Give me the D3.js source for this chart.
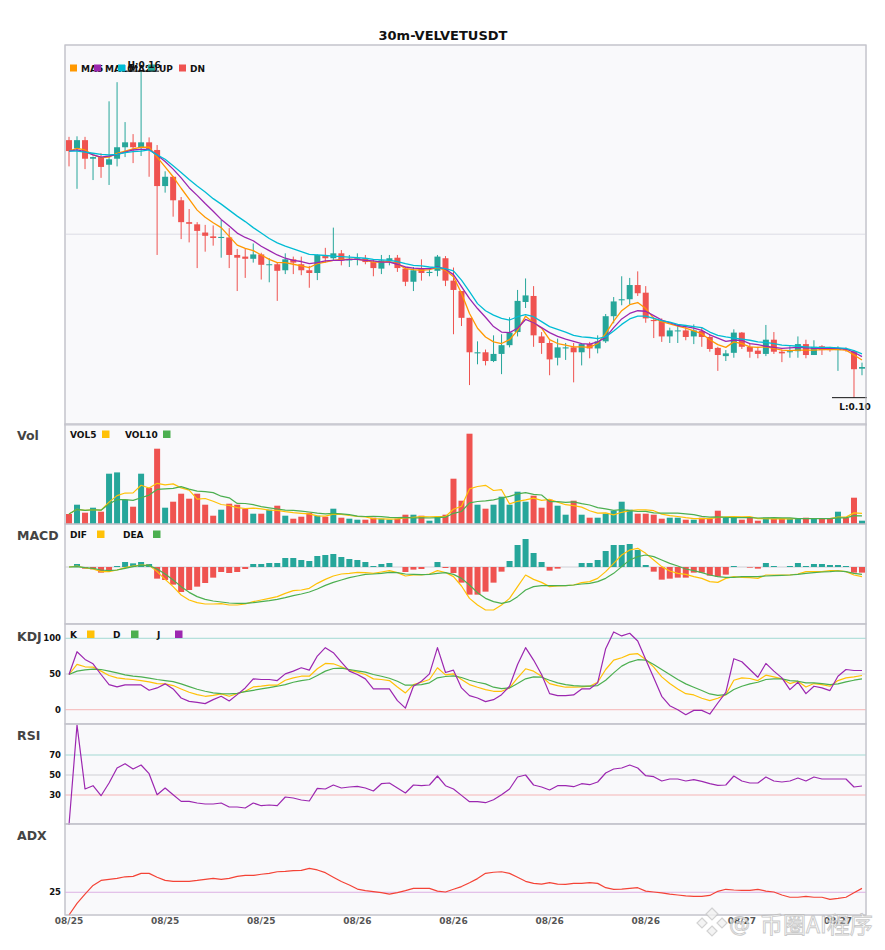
<!DOCTYPE html>
<html><head><meta charset="utf-8">
<script src="https://cdn.jsdelivr.net/npm/d3@7"></script>
<style>body{margin:0;background:#fff;} svg{display:block;font-family:"DejaVu Sans",sans-serif;}</style>
</head><body><svg id="c" width="885" height="950"></svg>
<script>
const title = "30m-VELVETUSDT";
const open = [.1472,.1457,.1472,.1438,.1441,.1427,.1438,.1459,.1468,.1459,
 .1468,.1454,.1388,.1405,.1362,.1322,.1318,.1303,.1296,.1293,
 .1294,.1262,.1259,.1255,.1263,.1244,.1245,.1234,.1254,.1245,
 .1234,.1229,.1260,.1256,.1265,.1252,.1254,.1256,.1249,.1237,
 .1252,.1257,.1237,.1213,.1237,.1229,.1233,.1256,.1215,.1196,
 .1147,.1082,.1084,.1068,.1081,.1097,.1121,.1176,.1187,.1113,
 .1101,.1074,.1091,.1093,.1084,.1099,.1091,.1104,.1150,.1179,
 .1181,.1207,.1193,.1143,.1141,.1113,.1123,.1124,.1113,.1123,
 .1112,.1092,.1077,.1083,.1120,.1094,.1087,.1081,.1107,.1085,
 .1084,.1086,.1099,.1079,.1095,.1090,.1088,.1090,.1086,.1054];
const high = [.1478,.1479,.1478,.1442,.1448,.1543,.1578,.1505,.1483,.1600,
 .1477,.1463,.1415,.1406,.1368,.1346,.1322,.1317,.1316,.1326,
 .1311,.1273,.1274,.1283,.1266,.1256,.1249,.1265,.1259,.1259,
 .1242,.1263,.1275,.1312,.1271,.1262,.1265,.1262,.1254,.1262,
 .1262,.1262,.1240,.1240,.1254,.1237,.1262,.1260,.1239,.1196,
 .1147,.1104,.1089,.1115,.1117,.1148,.1198,.1219,.1205,.1121,
 .1106,.1109,.1101,.1101,.1101,.1103,.1115,.1154,.1185,.1223,
 .1220,.1232,.1205,.1149,.1146,.1129,.1132,.1134,.1135,.1129,
 .1117,.1094,.1088,.1126,.1121,.1101,.1094,.1134,.1121,.1089,
 .1095,.1113,.1107,.1106,.1097,.1094,.1095,.1093,.1088,.1065];
const low = [.1424,.1383,.1419,.1399,.1403,.1390,.1424,.1441,.1430,.1443,
 .1405,.1262,.1376,.1332,.1291,.1285,.1238,.1268,.1279,.1257,
 .1238,.1196,.1220,.1248,.1217,.1212,.1178,.1227,.1227,.1225,
 .1202,.1216,.1248,.1252,.1243,.1240,.1243,.1245,.1223,.1227,
 .1243,.1231,.1205,.1196,.1215,.1223,.1223,.1205,.1117,.1132,
 .1024,.1062,.1060,.1066,.1044,.1093,.1113,.1165,.1094,.1081,
 .1042,.1060,.1070,.1029,.1060,.1073,.1082,.1101,.1137,.1170,
 .1172,.1187,.1138,.1110,.1103,.1101,.1101,.1106,.1099,.1094,
 .1085,.1050,.1068,.1074,.1090,.1074,.1073,.1077,.1081,.1066,
 .1074,.1074,.1073,.1079,.1079,.1085,.1050,.1085,.1001,.1042];
const close = [.1452,.1472,.1438,.1441,.1423,.1437,.1459,.1468,.1459,.1468,
 .1454,.1388,.1405,.1362,.1322,.1319,.1306,.1297,.1293,.1295,
 .1262,.1257,.1255,.1263,.1244,.1245,.1233,.1254,.1248,.1234,
 .1229,.1262,.1256,.1265,.1252,.1255,.1256,.1249,.1238,.1252,
 .1256,.1238,.1213,.1234,.1229,.1231,.1259,.1215,.1198,.1147,
 .1084,.1084,.1068,.1081,.1097,.1120,.1178,.1188,.1115,.1101,
 .1071,.1093,.1093,.1084,.1099,.1091,.1104,.1150,.1177,.1181,
 .1207,.1192,.1146,.1141,.1113,.1124,.1124,.1112,.1124,.1112,
 .1090,.1079,.1082,.1120,.1094,.1085,.1081,.1107,.1085,.1082,
 .1086,.1099,.1079,.1094,.1088,.1088,.1090,.1088,.1053,.1057];
// volume (thousands)
const volume = [100,193,113,163,123,503,516,243,173,503,
 363,753,163,223,303,253,303,193,83,143,
 203,193,153,103,103,143,183,83,53,73,
 113,83,73,153,63,53,43,43,63,53,
 43,53,93,93,83,33,73,93,453,233,
 903,193,153,193,273,193,323,223,283,163,
 243,183,93,233,93,63,63,103,133,223,
 143,103,103,93,53,63,63,43,43,63,
 53,133,63,63,43,63,33,63,53,53,
 53,53,63,53,53,53,123,63,263,33];
const ma5 = [.1452,.1457,.1454,.1445,.1440,.1441,.1448,.1452,.1456,.1459,
 .1459,.1441,.1423,.1405,.1384,.1364,.1344,.1331,.1321,.1312,
 .1296,.1280,.1274,.1270,.1262,.1254,.1248,.1248,.1245,.1242,
 .1239,.1246,.1249,.1252,.1254,.1254,.1254,.1252,.1249,.1249,
 .1250,.1246,.1237,.1235,.1234,.1235,.1239,.1234,.1222,.1192,
 .1155,.1128,.1112,.1103,.1100,.1107,.1124,.1150,.1138,.1128,
 .1107,.1100,.1097,.1094,.1094,.1093,.1100,.1118,.1141,.1160,
 .1171,.1175,.1164,.1146,.1140,.1136,.1132,.1128,.1123,.1118,
 .1107,.1098,.1093,.1103,.1100,.1094,.1093,.1094,.1091,.1088,
 .1087,.1088,.1088,.1088,.1089,.1089,.1089,.1088,.1079,.1070];
const ma10 = [.1452,.1454,.1451,.1445,.1441,.1443,.1446,.1450,.1454,.1455,
 .1455,.1445,.1433,.1419,.1403,.1385,.1371,.1356,.1342,.1327,
 .1315,.1302,.1294,.1288,.1278,.1270,.1262,.1256,.1252,.1250,
 .1246,.1248,.1251,.1252,.1252,.1254,.1254,.1252,.1251,.1249,
 .1249,.1245,.1240,.1238,.1237,.1237,.1240,.1236,.1226,.1204,
 .1182,.1164,.1148,.1131,.1121,.1120,.1128,.1144,.1138,.1129,
 .1120,.1113,.1108,.1104,.1100,.1099,.1103,.1111,.1129,.1145,
 .1155,.1160,.1159,.1151,.1143,.1138,.1133,.1131,.1128,.1124,
 .1116,.1110,.1104,.1106,.1106,.1100,.1098,.1095,.1093,.1091,
 .1092,.1093,.1092,.1091,.1091,.1091,.1091,.1090,.1084,.1076];
const ma20 = [.1452,.1452,.1450,.1448,.1446,.1445,.1446,.1449,.1451,.1452,
 .1454,.1445,.1437,.1425,.1413,.1400,.1388,.1377,.1365,.1355,
 .1344,.1333,.1323,.1312,.1302,.1292,.1284,.1278,.1273,.1268,
 .1263,.1262,.1261,.1260,.1259,.1258,.1257,.1256,.1254,.1253,
 .1252,.1250,.1246,.1243,.1242,.1240,.1239,.1237,.1233,.1216,
 .1195,.1173,.1160,.1152,.1146,.1143,.1149,.1153,.1149,.1140,
 .1131,.1126,.1121,.1115,.1112,.1111,.1109,.1112,.1123,.1135,
 .1145,.1150,.1150,.1146,.1142,.1139,.1135,.1133,.1131,.1129,
 .1121,.1115,.1112,.1110,.1108,.1106,.1103,.1102,.1100,.1097,
 .1096,.1095,.1094,.1093,.1093,.1093,.1092,.1091,.1087,.1081];
// MACD values in units of 1e-4
const dif = [0,0.2,-0.2,-0.4,-0.93,-0.93,-0.6,-0.13,0.2,0.4,
 0.33,-0.93,-2.47,-3.93,-5.6,-6.6,-7.13,-7.4,-7.4,-7.33,
 -7.6,-7.6,-7.4,-6.93,-6.6,-6.27,-5.93,-5.27,-4.73,-4.6,
 -4.27,-3.27,-2.47,-1.8,-1.4,-1.27,-1.07,-1.13,-1.27,-1.0,
 -0.73,-1.13,-1.8,-1.6,-1.6,-1.4,-0.73,-1.1,-1.93,-3.8,
 -6.27,-7.6,-8.6,-8.6,-7.6,-6.27,-3.93,-1.6,-2.47,-3.07,
 -3.93,-3.8,-3.73,-3.6,-3.13,-2.93,-2.27,-0.93,0.73,2.4,
 3.4,3.73,2.73,1.4,0.07,-0.8,-1.27,-1.47,-1.93,-2.27,
 -2.93,-3.07,-2.27,-1.93,-2.07,-2.13,-2.27,-1.6,-1.6,-1.6,
 -1.6,-1.4,-0.93,-0.93,-0.93,-0.73,-0.73,-0.93,-1.6,-1.93];
const dea = [0,0.07,-0.13,-0.27,-0.6,-0.73,-0.6,-0.27,0.07,0.33,
 0.27,-0.4,-1.4,-2.6,-3.93,-5.07,-5.93,-6.47,-6.8,-7.0,
 -7.2,-7.27,-7.27,-7.13,-6.93,-6.73,-6.47,-6.13,-5.73,-5.4,
 -5.0,-4.4,-3.67,-3.07,-2.6,-2.13,-1.8,-1.47,-1.4,-1.27,
 -1.07,-1.13,-1.4,-1.47,-1.53,-1.47,-1.27,-1.13,-1.47,-2.27,
 -3.6,-5.13,-6.27,-6.93,-7.27,-6.93,-5.93,-4.6,-3.93,-3.73,
 -3.73,-3.73,-3.73,-3.6,-3.4,-3.27,-2.93,-2.27,-1.27,0.07,
 1.4,2.07,2.4,2.07,1.4,0.73,0.2,-0.4,-0.73,-1.13,
 -1.6,-1.93,-2.07,-2.07,-1.93,-1.93,-1.93,-1.8,-1.73,-1.67,
 -1.6,-1.47,-1.27,-1.13,-1.0,-0.93,-0.8,-0.93,-1.27,-1.47];
const macdHist = [0,0.6,-0.33,-0.47,-1.13,-0.67,0.2,1.0,0.73,1.0,
 0.6,-2.33,-2.6,-3.53,-5.0,-4.6,-3.93,-3.2,-2.13,-1.0,
 -1.2,-1.0,-0.4,0.6,0.6,0.8,0.8,1.8,1.8,1.4,
 1.2,2.2,2.4,2.6,2.0,1.6,1.4,1.0,0.2,0.6,
 0.8,0,-1.0,-0.53,-0.4,0,1.0,-0.2,-1.2,-3.13,
 -5.53,-5.53,-4.93,-3.13,-0.93,1.2,4.4,5.6,2.8,1.0,
 -0.73,-0.33,0,0,0.8,0.8,1.4,3.2,4.4,4.4,
 4.6,3.4,0.4,-0.93,-2.53,-2.33,-2.13,-2.13,-1.13,-1.13,
 -1.73,-1.93,-1.53,0.2,0,-0.13,-0.33,0.8,0.2,0,
 0.2,0.8,0.2,0.6,0.6,0.4,0.4,0.2,-1.13,-1.13];
const kVals = [49.3,63.4,60.1,59.6,54.0,47.9,44.6,43.2,42.3,40.8,
 39.0,36.6,36.2,33.8,29.1,24.4,21.1,18.8,20.2,22.1,
 18.8,22.5,25.8,31.9,32.9,34.3,34.3,41.3,44.6,46.9,
 46.9,57.3,64.8,64.3,60.1,55.4,52.6,49.3,43.2,42.3,
 40.8,31.9,23.5,35.2,38.5,42.3,58.7,48.8,50.2,42.3,
 35.2,31.5,28.2,25.8,25.8,30.5,44.6,57.3,54.0,46.9,
 36.6,33.8,31.5,31.5,31.9,32.9,38.5,56.3,69.5,72.8,
 77.5,78.4,70.4,59.6,46.0,36.6,29.1,22.5,20.7,16.0,
 12.7,16.0,21.1,41.3,44.6,43.7,40.8,48.4,46.0,43.2,
 36.6,39.9,31.9,36.6,35.2,32.9,40.8,44.6,46.0,47.9];
const dVals = [49.3,54.0,55.9,56.8,56.3,54.0,51.6,48.8,46.9,46.0,
 44.1,42.3,40.8,39.4,36.2,32.4,28.6,25.8,23.5,22.5,
 22.1,23.0,25.4,27.2,29.1,31.0,32.9,35.2,38.5,40.8,
 42.3,47.9,54.0,57.7,58.2,56.3,54.5,52.6,49.3,46.9,
 44.1,39.9,34.3,34.3,35.2,37.6,44.6,46.5,47.4,45.1,
 41.3,38.5,36.2,31.5,29.6,30.5,36.6,43.2,46.0,45.5,
 41.3,37.6,35.2,33.8,32.9,32.9,33.8,41.3,51.6,61.0,
 66.7,70.0,69.5,63.4,56.3,49.3,42.3,36.2,31.5,26.8,
 22.1,20.2,21.1,28.2,32.9,36.2,38.5,42.3,43.2,43.2,
 40.8,39.9,37.6,37.6,36.6,35.2,36.2,39.0,41.3,43.2];
const jVals = [49.3,81.2,70.4,64.3,49.3,35.2,31.9,34.7,34.7,34.7,
 27.2,30.5,36.2,29.1,16.4,11.7,10.3,8.5,14.1,18.8,
 12.2,21.1,30.5,43.2,42.3,42.3,40.8,50.2,54.0,58.7,
 55.4,75.1,86.9,79.8,66.7,54.0,49.3,43.2,29.1,29.1,
 29.1,12.7,2.3,32.9,39.9,50.2,86.9,52.1,55.4,30.5,
 19.7,16.4,11.3,14.1,21.1,32.9,63.4,86.9,69.5,49.3,
 22.5,19.7,19.7,20.7,29.1,29.1,37.6,85.4,108.9,103.3,
 107.0,96.2,70.4,44.6,18.8,5.6,0,-7.0,-0.9,-0.9,
 -6.1,9.4,24.4,71.4,67.1,56.3,45.5,64.8,54.0,44.6,
 28.2,38.5,22.5,32.9,30.5,26.8,46.9,56.3,54.9,54.9];
const rsi = [0,100,36,39.3,29.3,42,57,61.3,56,60,
 51.3,30.3,37,30.3,23.6,23.6,22,21,21,22,
 18,18,17,22,19.3,20,19.3,28,27,25,
 24,36.6,36,40,37,38,38.6,37,34,41.3,
 42,37,32,40,39.3,40,49,39.3,36,29.6,
 23.3,23.3,22.3,25.3,30.3,36,48,50,40,38,
 35,39.3,39.3,38.3,41.3,40.3,43,52,56,57,
 60,57,49.3,48.3,44,46,46,44,45.3,43.6,
 41.3,39.6,40,49,44,42,42,48,44,43,
 44,47,44,48,46,46,46,46,38,39];
const adx = [15,20.1,24.2,28.0,30.2,30.7,31.1,31.8,32.0,33.3,
 33.3,31.6,30.2,29.8,29.8,29.8,30.2,30.7,31.1,30.7,
 31.1,32.0,32.4,32.4,32.9,33.3,34.0,34.2,34.5,34.6,
 35.5,34.8,33.6,31.6,29.7,28.2,26.4,25.7,25.3,24.8,
 24.2,24.8,25.7,26.7,26.7,26.7,25.5,25.1,26.3,27.5,
 29.2,31.0,33.3,33.8,34.0,33.3,31.6,29.8,28.9,28.6,
 29.2,28.6,28.5,28.9,28.9,29.2,28.9,27.0,26.3,26.4,
 26.7,27.0,25.5,25.1,24.7,24.2,23.8,23.4,23.2,23.2,
 23.6,25.4,26.3,26.0,25.8,25.8,26.3,25.5,25.1,23.8,
 22.8,22.8,23.2,22.8,22.8,21.9,22.3,22.8,24.8,26.7];
const tickIndex = [0,12,24,36,48,60,72,84,96];
const tickLabels = ["08/25","08/25","08/25","08/26","08/26","08/26","08/26","08/27","08/27"];

const UP = "#26a69a", DN = "#ef5350";
const svg = d3.select("#c");
const L = 65, R = 866;
const n = close.length;
const x = d3.scaleBand().domain(d3.range(n)).range([L, R]).padding(0);
const cx = i => x(i) + x.bandwidth() / 2;
const panels = [["price",45,425],["vol",424,524],["macd",524,624],["kdj",624,724],["rsi",724,824],["adx",824,915]];

svg.append("text").attr("x", 443).attr("y", 40).attr("text-anchor", "middle")
  .attr("font-size", 13).attr("font-weight", "bold").attr("fill", "#111").text(title);

panels.forEach(p => {
  svg.append("rect").attr("x", L).attr("y", p[1]).attr("width", R - L).attr("height", p[2] - p[1])
    .attr("fill", "#f9f9fb").attr("stroke", "#c4c4cc").attr("stroke-width", 1);
});

function hline(yv, color) {
  svg.append("line").attr("x1", L).attr("x2", R).attr("y1", yv).attr("y2", yv)
    .attr("stroke", color).attr("stroke-width", 1);
}
function drawLine(data, yScale, color, w) {
  svg.append("path").datum(data).attr("fill", "none").attr("stroke", color)
    .attr("stroke-width", w || 1.2).attr("stroke-linejoin", "round")
    .attr("d", d3.line().x((d, i) => cx(i)).y(d => yScale(d)));
}
const isUp = i => close[i] >= open[i];

// ---------- price ----------
const y = d3.scaleLinear().domain([0.0951, 0.1646]).range([425, 45]);
hline(y(0.13), "#dcdce4");
const cg = svg.append("g");
d3.range(n).forEach(i => {
  const col = isUp(i) ? UP : DN;
  cg.append("line").attr("x1", cx(i)).attr("x2", cx(i)).attr("y1", y(high[i])).attr("y2", y(low[i]))
    .attr("stroke", col).attr("stroke-width", 1);
  const top = y(Math.max(open[i], close[i])), bot = y(Math.min(open[i], close[i]));
  cg.append("rect").attr("x", cx(i) - 3).attr("y", top).attr("width", 6)
    .attr("height", Math.max(1, bot - top)).attr("fill", col);
});
drawLine(ma5, y, "#ff9800", 1.3);
drawLine(ma10, y, "#9c27b0", 1.3);
drawLine(ma20, y, "#00bcd4", 1.3);

// price legend
[["MA5","#ff9800",70],["MA10","#9c27b0",94],["MA20","#00bcd4",118],["UP",UP,148],["DN",DN,179]].forEach(d => {
  svg.append("rect").attr("x", d[2]).attr("y", 64.5).attr("width", 7).attr("height", 7).attr("fill", d[1]);
  svg.append("text").attr("x", d[2] + 11).attr("y", 71.5).attr("font-size", 9).attr("font-weight", "bold")
    .attr("fill", "#111").text(d[0]);
});

// high / low markers
const hi = d3.maxIndex(high), lo = d3.minIndex(low);
const fmt = d3.format(".2f");
svg.append("line").attr("x1", cx(hi) - 15).attr("x2", cx(hi) + 18).attr("y1", y(high[hi]) + 1).attr("y2", y(high[hi]) + 1)
  .attr("stroke", "#111").attr("stroke-width", 1);
svg.append("text").attr("x", cx(hi) + 3).attr("y", y(high[hi]) - 2).attr("text-anchor", "middle")
  .attr("font-size", 9).attr("font-weight", "bold").attr("fill", "#111").text("H:" + fmt(high[hi]));
svg.append("line").attr("x1", cx(lo) - 22).attr("x2", Math.min(R + 1, cx(lo) + 14)).attr("y1", y(low[lo])).attr("y2", y(low[lo]))
  .attr("stroke", "#111").attr("stroke-width", 1);
svg.append("text").attr("x", cx(lo) + 1).attr("y", y(low[lo]) + 12.5).attr("text-anchor", "middle")
  .attr("font-size", 9).attr("font-weight", "bold").attr("fill", "#111").text("L:" + fmt(low[lo]));

// ---------- volume ----------
const yv = d3.scaleLinear().domain([0, 1000]).range([524, 424]);
d3.range(n).forEach(i => {
  svg.append("rect").attr("x", cx(i) - 3).attr("y", yv(volume[i])).attr("width", 6)
    .attr("height", yv(0) - yv(volume[i])).attr("fill", isUp(i) ? UP : DN);
});
const sma = (arr, k) => arr.map((_, i) => d3.mean(arr.slice(Math.max(0, i - k + 1), i + 1)));
drawLine(sma(volume, 5), yv, "#ffc107", 1.2);
drawLine(sma(volume, 10), yv, "#4caf50", 1.2);

// ---------- MACD ----------
const ym = d3.scaleLinear().domain([-11.4, 8.6]).range([624, 524]);
hline(ym(0), "#d0d0d6");
d3.range(n).forEach(i => {
  const v = macdHist[i];
  if (v === 0) return;
  svg.append("rect").attr("x", cx(i) - 3).attr("y", Math.min(ym(v), ym(0))).attr("width", 6)
    .attr("height", Math.abs(ym(v) - ym(0))).attr("fill", v > 0 ? UP : DN);
});
drawLine(dif, ym, "#ffc107", 1.2);
drawLine(dea, ym, "#4caf50", 1.2);

// ---------- KDJ ----------
const yk = d3.scaleLinear().domain([-20, 120]).range([724, 624]);
hline(yk(100), "#a3d9d3"); hline(yk(50), "#cfcfd4"); hline(yk(0), "#f5b5b5");
drawLine(kVals, yk, "#ffc107", 1.2);
drawLine(dVals, yk, "#4caf50", 1.2);
drawLine(jVals, yk, "#9c27b0", 1.2);

// ---------- RSI ----------
const yr = d3.scaleLinear().domain([0, 100]).range([825, 725]);
hline(yr(70), "#a3d9d3"); hline(yr(50), "#cfcfd4"); hline(yr(30), "#f5b5b5");
drawLine(rsi, yr, "#9c27b0", 1.2);

// ---------- ADX ----------
const ya = d3.scaleLinear().domain([15, 55]).range([915, 824]);
hline(ya(25), "#dcb0e4");
drawLine(adx, ya, "#f44336", 1.2);

// redraw panel separators on top
panels.forEach(p => {
  svg.append("rect").attr("x", L).attr("y", p[1]).attr("width", R - L).attr("height", p[2] - p[1])
    .attr("fill", "none").attr("stroke", "#c4c4cc").attr("stroke-width", 1);
});

// tick labels
function yTicks(vals, sc) {
  vals.forEach(v => {
    svg.append("text").attr("x", 61).attr("y", sc(v)).attr("dy", "0.36em").attr("text-anchor", "end")
      .attr("font-size", 8.5).attr("font-weight", "bold").attr("fill", "#111").text(v);
  });
}
yTicks([100, 50, 0], yk);
yTicks([70, 50, 30], yr);
yTicks([25], ya);

// panel titles
[["Vol",440],["MACD",540],["KDJ",641],["RSI",740],["ADX",840]].forEach(d => {
  svg.append("text").attr("x", 17).attr("y", d[1]).attr("font-size", 12.5).attr("font-weight", "bold")
    .attr("fill", "#444").text(d[0]);
});

// sub legends
function legend(items, yy) {
  items.forEach(d => {
    svg.append("text").attr("x", d[2]).attr("y", yy + 3.5).attr("font-size", 9).attr("font-weight", "bold")
      .attr("fill", "#111").text(d[0]);
    svg.append("rect").attr("x", d[3]).attr("y", yy - 3.5).attr("width", 7.5).attr("height", 7.5).attr("fill", d[1]);
  });
}
legend([["VOL5","#ffc107",70,102],["VOL10","#4caf50",125,163]], 434);
legend([["DIF","#ffc107",70,97],["DEA","#4caf50",123,153]], 534);
legend([["K","#ffc107",70,87],["D","#4caf50",113,131],["J","#9c27b0",157,175]], 634);

// x axis
const ax = svg.append("g").attr("transform", "translate(0,915)")
  .call(d3.axisBottom(x).tickValues(tickIndex).tickSize(0).tickPadding(3)
    .tickFormat(d => tickLabels[tickIndex.indexOf(d)]));
ax.select(".domain").remove();
ax.selectAll("text").attr("font-size", 9).attr("font-weight", "bold").attr("fill", "#555")
  .attr("font-family", "DejaVu Sans, sans-serif");

// watermark
const wm = svg.append("g").attr("opacity", 0.8);
wm.append("path").attr("d", "M712,908 l6,6 l-6,6 l-6,-6 Z M702,918 l5,5 l-5,5 l-5,-5 Z M722,918 l5,5 l-5,5 l-5,-5 Z M712,926 l5,5 l-5,5 l-5,-5 Z")
  .attr("fill", "#f2f2f2").attr("stroke", "#c8c8c8").attr("stroke-width", 1.2);
wm.append("text").attr("x", 729).attr("y", 932).attr("font-size", 21)
  .attr("font-family", "DejaVu Sans, sans-serif").attr("fill", "#ffffff")
  .attr("stroke", "#bdbdbd").attr("stroke-width", 0.9).text("@");
wm.append("text").attr("x", 760).attr("y", 933).attr("font-size", 23)
  .attr("font-family", "Noto Sans CJK SC, sans-serif").attr("fill", "#ffffff")
  .attr("stroke", "#bdbdbd").attr("stroke-width", 0.9).text("币圈AI程序");
</script></body></html>
